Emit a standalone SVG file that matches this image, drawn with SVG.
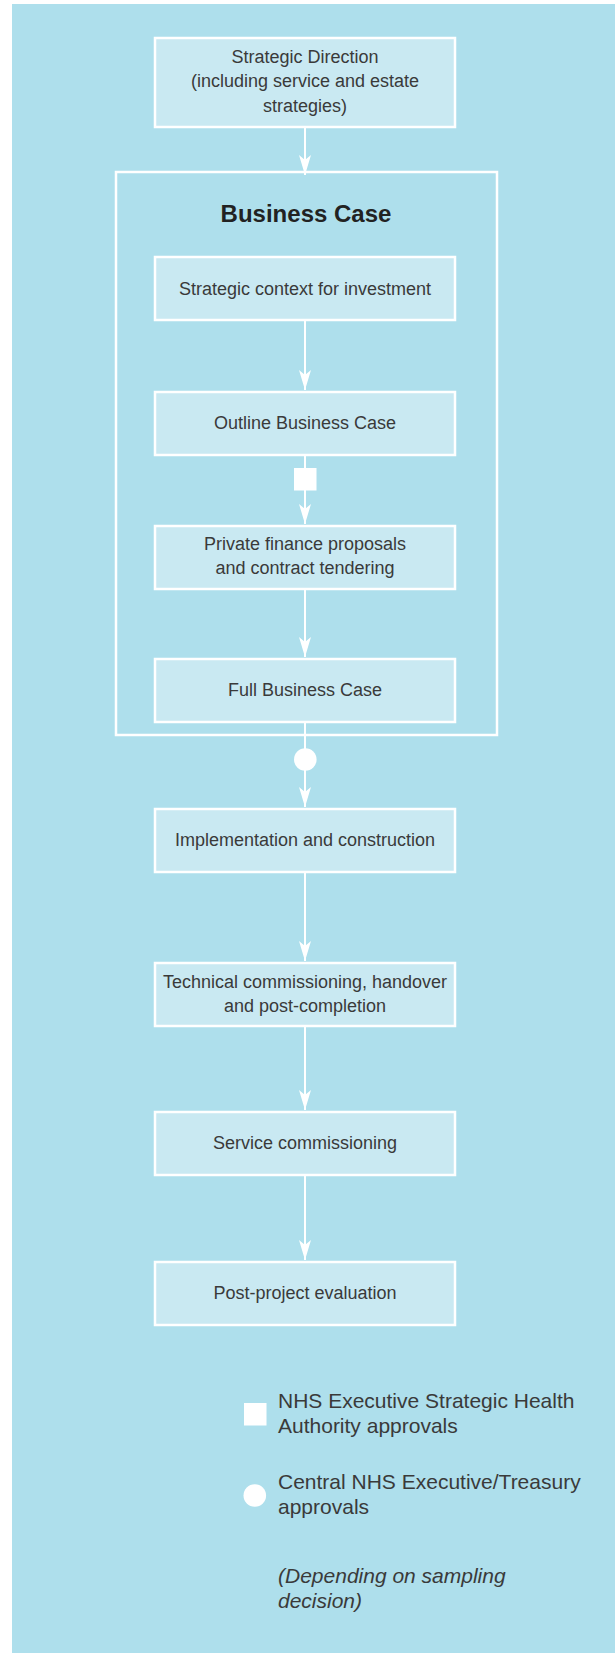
<svg xmlns="http://www.w3.org/2000/svg" width="615" height="1653" viewBox="0 0 615 1653">
<defs>
<style>
.box{fill:#c9e9f2;stroke:#ffffff;stroke-width:2.5}
.frame{fill:none;stroke:#ffffff;stroke-width:2.5}
.t{font-family:"Liberation Sans",Arial,sans-serif;font-size:18px;fill:#3a3a3a;text-anchor:middle}
.title{font-family:"Liberation Sans",Arial,sans-serif;font-size:24px;font-weight:bold;fill:#222222;text-anchor:middle}
.leg{font-family:"Liberation Sans",Arial,sans-serif;font-size:21px;fill:#3a3a3a}
.it{font-style:italic}
.c{stroke:#ffffff;stroke-width:2;fill:none}
.sym{fill:#ffffff}
</style>
<marker id="ah" viewBox="0 0 20 12" refX="20" refY="6" markerWidth="20" markerHeight="12" markerUnits="userSpaceOnUse" orient="auto">
<path d="M0,0 L20,6 L0,12 L5,6 Z" fill="#ffffff"/>
</marker>
</defs>
<rect x="12" y="4" width="603" height="1649" fill="#aedfec"/>

<g id="business-case">
<rect class="frame" x="116" y="172" width="381" height="563"/>
<text class="title" x="306" y="222">Business Case</text>
</g>

<g id="connectors">
<line class="c" x1="305" y1="127" x2="305" y2="175" marker-end="url(#ah)"/>
<line class="c" x1="305" y1="320" x2="305" y2="390" marker-end="url(#ah)"/>
<line class="c" x1="305" y1="455" x2="305" y2="469"/>
<line class="c" x1="305" y1="490" x2="305" y2="524" marker-end="url(#ah)"/>
<line class="c" x1="305" y1="589" x2="305" y2="657" marker-end="url(#ah)"/>
<line class="c" x1="305" y1="722" x2="305" y2="750"/>
<line class="c" x1="305" y1="770" x2="305" y2="807" marker-end="url(#ah)"/>
<line class="c" x1="305" y1="872" x2="305" y2="961" marker-end="url(#ah)"/>
<line class="c" x1="305" y1="1026" x2="305" y2="1110" marker-end="url(#ah)"/>
<line class="c" x1="305" y1="1175" x2="305" y2="1260" marker-end="url(#ah)"/>
</g>

<g id="approval-sha">
<rect class="sym" x="294" y="468" width="22.5" height="22.5"/>
</g>
<g id="approval-central">
<circle class="sym" cx="305.3" cy="759.5" r="11.3"/>
</g>

<g id="strategic-direction">
<rect class="box" x="155" y="38" width="300" height="89"/>
<text class="t" x="305" y="63">Strategic Direction</text>
<text class="t" x="305" y="87">(including service and estate</text>
<text class="t" x="305" y="111.5">strategies)</text>
</g>

<g id="strategic-context">
<rect class="box" x="155" y="257" width="300" height="63"/>
<text class="t" x="305" y="294.5">Strategic context for investment</text>
</g>

<g id="outline-business-case">
<rect class="box" x="155" y="392" width="300" height="63"/>
<text class="t" x="305" y="429">Outline Business Case</text>
</g>

<g id="private-finance">
<rect class="box" x="155" y="526" width="300" height="63"/>
<text class="t" x="305" y="550">Private finance proposals</text>
<text class="t" x="305" y="574">and contract tendering</text>
</g>

<g id="full-business-case">
<rect class="box" x="155" y="659" width="300" height="63"/>
<text class="t" x="305" y="696">Full Business Case</text>
</g>

<g id="implementation">
<rect class="box" x="155" y="809" width="300" height="63"/>
<text class="t" x="305" y="846">Implementation and construction</text>
</g>

<g id="technical-commissioning">
<rect class="box" x="155" y="963" width="300" height="63"/>
<text class="t" x="305" y="988">Technical commissioning, handover</text>
<text class="t" x="305" y="1012">and post-completion</text>
</g>

<g id="service-commissioning">
<rect class="box" x="155" y="1112" width="300" height="63"/>
<text class="t" x="305" y="1149">Service commissioning</text>
</g>

<g id="post-project-evaluation">
<rect class="box" x="155" y="1262" width="300" height="63"/>
<text class="t" x="305" y="1299">Post-project evaluation</text>
</g>

<g id="legend">
<rect class="sym" x="244" y="1403" width="22.5" height="22.5"/>
<text class="leg" x="278" y="1407.5">NHS Executive Strategic Health</text>
<text class="leg" x="278" y="1432.5">Authority approvals</text>
<circle class="sym" cx="254.8" cy="1495.5" r="11.3"/>
<text class="leg" x="278" y="1489">Central NHS Executive/Treasury</text>
<text class="leg" x="278" y="1513.5">approvals</text>
<text class="leg it" x="278" y="1583">(Depending on sampling</text>
<text class="leg it" x="278" y="1607.5">decision)</text>
</g>
</svg>
